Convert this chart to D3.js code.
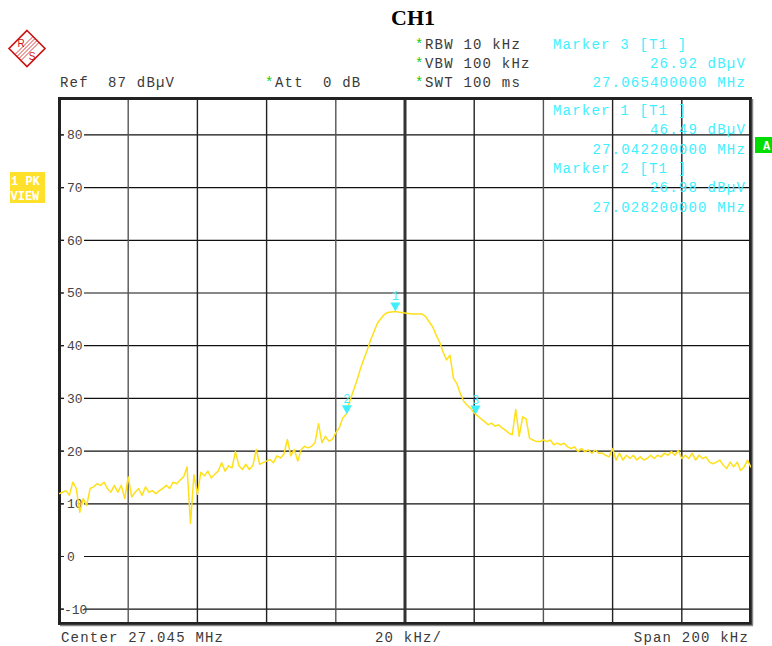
<!DOCTYPE html>
<html>
<head>
<meta charset="utf-8">
<script src="https://cdn.jsdelivr.net/npm/d3@7"></script>
<style>
  body { margin: 0; background: #fff; }
  text { font-family: "Liberation Mono", "Courier New", monospace; }
</style>
</head>
<body>
<div id="chart"></div>
<script>
// Sweep settings
const centerMHz = 27.045;
const spanMHz = 0.2;
const refLevel = 87;
const yTicks = [80, 70, 60, 50, 40, 30, 20, 10, 0, -10];

// Trace 1 (PK / VIEW), one reading per kHz from 26.945 to 27.145 MHz
const levels = [
  11.9,12.2,12.5,11.6,14.1,12.9,8.4,11.0,9.7,12.9,
  13.2,13.8,13.5,14.1,12.9,12.2,13.5,12.2,13.5,11.0,
  15.1,11.3,12.2,12.9,11.6,13.2,12.2,12.5,11.9,12.5,
  12.9,13.5,12.9,14.1,13.8,14.5,15.1,17.0,6.3,15.5,
  11.8,16.0,15.3,16.2,14.9,15.6,16.2,17.8,16.2,17.2,
  16.8,19.9,17.2,16.5,17.5,16.5,17.2,20.3,17.5,17.8,
  18.1,18.4,17.8,19.1,18.7,19.4,22.2,19.1,20.3,18.1,
  20.3,20.9,20.6,20.9,21.6,25.2,21.6,22.8,21.9,22.2,
  23.5,24.4,26.3,27.0,29.4,31.3,33.2,35.4,37.3,39.0,
  41.0,42.6,44.2,45.1,45.9,46.3,46.4,46.5,46.4,46.3,
  46.2,46.1,46.0,46.0,46.0,46.0,45.5,44.5,43.6,42.0,
  40.7,38.8,37.3,38.2,33.8,32.8,30.9,29.4,28.7,28.1,
  27.2,26.7,26.1,25.6,25.0,25.3,24.7,25.0,24.4,24.0,
  23.4,23.1,27.9,22.8,26.5,26.1,22.4,22.1,21.8,21.8,
  22.1,21.8,22.1,21.2,21.5,21.2,21.5,20.8,20.5,20.8,
  19.9,20.5,19.9,20.2,19.6,20.2,19.6,19.6,19.2,18.9,
  20.5,18.3,19.6,18.3,19.2,18.6,19.2,18.3,18.9,18.3,
  18.6,19.2,18.6,19.2,18.9,19.6,19.2,19.9,19.2,20.1,
  18.6,19.2,18.6,19.6,18.3,19.2,18.6,18.9,17.9,17.6,
  17.9,18.3,17.3,16.7,17.9,17.0,17.9,16.3,17.0,18.3,
  16.9
];

// Markers
const markerIds = [1, 2, 3];
const markerFreqs = [27.0422, 27.0282, 27.0654];
const markerLevels = [46.49, 26.98, 26.92];

const W = 772, H = 646;
const svg = d3.select("#chart").append("svg")
  .attr("width", W).attr("height", H);

const fStart = centerMHz - spanMHz / 2;
const x = d3.scaleLinear().domain([fStart, fStart + spanMHz]).range([59, 751]);
const y = d3.scaleLinear().domain([refLevel - 100, refLevel]).range([625, 98]);

const CW = 9.6; // monospace cell width
const txt = (s, xx, yy, fill) => svg.append("text")
  .attr("x", xx).attr("y", yy).attr("fill", fill || "#3a3a3a")
  .attr("font-size", 14).attr("letter-spacing", 1.2).attr("xml:space", "preserve").text(s);
const txtRight = (s, right, yy, fill) => txt(s, right - s.length * CW, yy, fill);

// grid
const vTicks = d3.range(11).map(i => fStart + i * spanMHz / 10);
svg.append("g").selectAll("line").data(yTicks).enter().append("line")
  .attr("x1", 59).attr("x2", 751)
  .attr("y1", d => y(d)).attr("y2", d => y(d))
  .attr("stroke", "#111").attr("stroke-width", 1.2);
svg.append("g").selectAll("line").data(vTicks.slice(1, 10)).enter().append("line")
  .attr("x1", d => x(d)).attr("x2", d => x(d))
  .attr("y1", 98).attr("y2", 624)
  .attr("stroke", (d, i) => i === 4 ? "#333" : (i % 3 === 0 ? "#555" : "#222"))
  .attr("stroke-width", (d, i) => i === 4 ? 3 : 1.4);

// y labels on white
const yl = svg.append("g").selectAll("g").data(yTicks).enter().append("g");
yl.append("rect").attr("x", 64).attr("y", d => y(d) - 6).attr("width", 20).attr("height", 12)
  .attr("fill", "#fff");
yl.append("line").attr("x1", 59).attr("x2", 63.5).attr("y1", d => y(d)).attr("y2", d => y(d))
  .attr("stroke", "#222");
yl.append("text").attr("x", d => d < 0 ? 64 : 67).attr("y", d => y(d) + 4.5)
  .attr("font-size", 13).attr("fill", "#444").text(d => d);

// frame
svg.append("rect").attr("x", 59.5).attr("y", 98.5).attr("width", 691).attr("height", 525)
  .attr("fill", "none").attr("stroke", "#222").attr("stroke-width", 3);
svg.append("line").attr("x1", 752.5).attr("x2", 752.5).attr("y1", 99).attr("y2", 625)
  .attr("stroke", "#888").attr("stroke-width", 1.5);
svg.append("line").attr("x1", 60).attr("x2", 753).attr("y1", 625.5).attr("y2", 625.5)
  .attr("stroke", "#888").attr("stroke-width", 1.5);

// trace
svg.append("clipPath").attr("id", "clip").append("rect")
  .attr("x", 59).attr("y", 98).attr("width", 692).attr("height", 527);
const pts = levels.map((v, i) => [fStart + i * 0.001, v]);
svg.append("path").datum(pts)
  .attr("clip-path", "url(#clip)")
  .attr("fill", "none").attr("stroke", "#ffe01a").attr("stroke-width", 1.5)
  .attr("stroke-linejoin", "round")
  .attr("d", d3.line().x(d => x(d[0])).y(d => y(d[1])));

// markers
const cyan = "#3ef0ff";
markerIds.forEach((id, i) => {
  const mx = x(markerFreqs[i]), my = y(markerLevels[i]);
  svg.append("path")
    .attr("d", `M${mx - 5},${my - 9}L${mx + 5},${my - 9}L${mx},${my}Z`)
    .attr("fill", cyan);
  svg.append("text").attr("x", mx).attr("y", my - 11).attr("text-anchor", "middle")
    .attr("font-size", 12).attr("fill", cyan).text(id);
});

// title
svg.append("text").attr("x", 413).attr("y", 25).attr("text-anchor", "middle")
  .style("font-family", "'Liberation Serif', 'Times New Roman', serif")
  .attr("font-weight", "bold").attr("font-size", 22).attr("fill", "#000").text("CH1");

// header
txt("Ref  87 dB\u00b5V", 60, 87);
txt("*", 415 - 150, 87, "#11cc11"); txt("Att  0 dB", 275, 87);
txt("*", 415, 49, "#11cc11"); txt("RBW 10 kHz", 425, 49);
txt("*", 415, 68, "#11cc11"); txt("VBW 100 kHz", 425, 68);
txt("*", 415, 87, "#11cc11"); txt("SWT 100 ms", 425, 87);

txt("Marker 3 [T1 ]", 553, 49, cyan);
txtRight("26.92 dB\u00b5V", 746, 68, cyan);
txtRight("27.065400000 MHz", 746, 87, cyan);
txt("Marker 1 [T1 ]", 553, 115, cyan);
txtRight("46.49 dB\u00b5V", 746, 134, cyan);
txtRight("27.042200000 MHz", 746, 154, cyan);
txt("Marker 2 [T1 ]", 553, 173, cyan);
txtRight("26.98 dB\u00b5V", 746, 192, cyan);
txtRight("27.028200000 MHz", 746, 212, cyan);

// footer
txt("Center 27.045 MHz", 61, 642);
txt("20 kHz/", 375, 642);
txtRight("Span 200 kHz", 749, 642);

// side labels
svg.append("rect").attr("x", 10).attr("y", 172).attr("width", 35).attr("height", 31).attr("fill", "#ffe02a");
svg.append("text").attr("x", 11).attr("y", 185).attr("font-size", 12).attr("font-weight", "bold")
  .attr("fill", "#fff").attr("xml:space", "preserve").text("1 PK");
svg.append("text").attr("x", 10.5).attr("y", 200).attr("font-size", 12).attr("font-weight", "bold")
  .attr("fill", "#fff").text("VIEW");
svg.append("rect").attr("x", 755).attr("y", 137).attr("width", 17).attr("height", 16).attr("fill", "#00dd00");
svg.append("text").attr("x", 763).attr("y", 149.5).attr("font-size", 12).attr("font-weight", "bold")
  .attr("fill", "#fff").text("A");

// R&S logo
const logo = svg.append("g").attr("transform", "translate(27,48.5)");
logo.append("path").attr("d", "M0,-18L18,0L0,18L-18,0Z")
  .attr("fill", "#fff").attr("stroke", "#cc1111").attr("stroke-width", 1.6);
[-3, -1, 1, 3].forEach(o => {
  logo.append("line").attr("x1", 9 + o).attr("y1", -9 + o).attr("x2", -9 + o).attr("y2", 9 + o)
    .attr("stroke", "#cc1111").attr("stroke-width", 0.8);
});
logo.append("text").attr("x", -6).attr("y", -2).attr("text-anchor", "middle")
  .style("font-family", "'Liberation Sans', Arial, sans-serif")
  .attr("font-size", 10).attr("fill", "#cc1111").text("R");
logo.append("text").attr("x", 5).attr("y", 11).attr("text-anchor", "middle")
  .style("font-family", "'Liberation Sans', Arial, sans-serif")
  .attr("font-size", 10).attr("fill", "#cc1111").text("S");
</script>
</body>
</html>
